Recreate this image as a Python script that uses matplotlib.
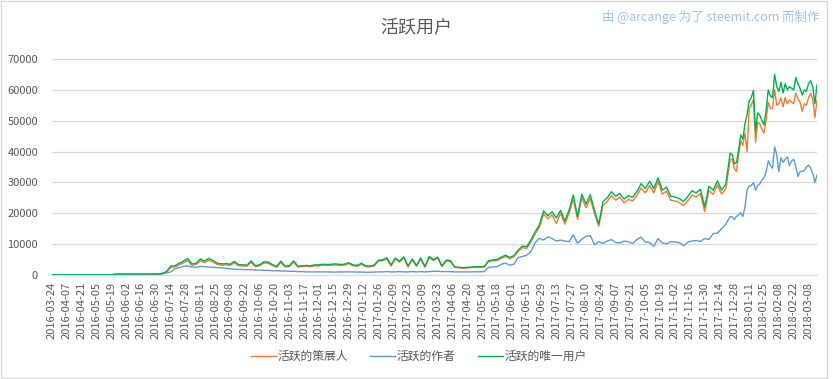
import numpy as np
import pandas as pd
import matplotlib
matplotlib.use("Agg")
import matplotlib.pyplot as plt
import matplotlib.dates as mdates
from matplotlib.patches import Rectangle

plt.rcParams['font.family'] = ['Noto Sans CJK SC', 'DejaVu Sans']

# fechas: cada 4 dias hasta 2017-12-24, luego cada 2 dias
fechas = pd.date_range("2016-03-24", periods=161, freq="4D").append(
    pd.date_range("2017-12-26", periods=41, freq="2D"))

# 活跃的唯一用户 (verde)
unicos = ([80] * 15 + [300] * 10 + [
    350, 500, 1100, 2900, 3000, 3800, 4400, 5400, 3600, 3800,
    5200, 4500, 5400, 4700, 3800, 3600, 3700, 3500, 4400, 3400,
    3300, 3200, 4600, 3000, 3300, 4300, 4200, 3400, 2800, 4500,
    2900, 3000, 4600, 2900, 3000, 3100, 3000, 3300, 3300, 3500,
    3400, 3500, 3600, 3400, 3500, 4000, 3300, 3100, 3800, 3000,
    2900, 3200, 4800, 4900, 5600, 3200, 5500, 4500, 5900, 2900,
    5200, 3100, 5500, 2800, 6000, 5000, 5800, 3000, 4800, 4700,
    2700, 2500, 2400, 2500, 2600, 2700, 2700, 2800, 4600, 4900,
    5000, 5800, 6400, 5700, 6300, 8100, 9400, 9200, 11300, 14000,
    16200, 20800, 19200, 20500, 18500, 21000, 17500, 21000, 25900, 19000,
    26200, 23000, 26000, 21000, 16500, 23800, 25000, 27000, 25500, 26400,
    24600, 25700, 25200, 27000, 29600, 28000, 30400, 28000, 31500, 27500,
    28500, 25500, 25300, 24800, 23800, 25400, 27300, 26600, 27800, 22000,
    28800, 27500, 30500, 27500, 29500, 39500,
    39000, 36000, 36500, 40500, 45400, 44000, 49000, 52000, 56500, 57500,
    59800, 46500, 52500, 51800, 50000, 48600, 53500, 60000, 58000, 57500,
    65000, 61000, 59500, 62500, 59000, 62000, 60000, 61000, 60500, 60000,
    64000, 62000, 60500, 58300, 60000, 59500, 62000, 63000, 61000, 55500,
    61600])

# 活跃的策展人 (naranja)
curadores = ([60] * 15 + [250] * 10 + [
    300, 450, 900, 2400, 2600, 3300, 3900, 4700, 3200, 3400,
    4600, 4000, 4800, 4200, 3400, 3200, 3300, 3100, 3900, 3000,
    2900, 2900, 4100, 2700, 3000, 3900, 3800, 3100, 2500, 4100,
    2600, 2700, 4200, 2600, 2700, 2800, 2700, 3000, 3000, 3200,
    3100, 3200, 3300, 3100, 3200, 3700, 3000, 2800, 3500, 2700,
    2600, 2900, 4500, 4600, 5300, 2900, 5200, 4200, 5600, 2600,
    4900, 2800, 5200, 2500, 5700, 4700, 5500, 2700, 4500, 4400,
    2500, 2300, 2200, 2300, 2400, 2500, 2500, 2600, 4300, 4600,
    4700, 5400, 6000, 5300, 5900, 7600, 8900, 8600, 10700, 13300,
    15500, 19800, 18200, 19500, 16700, 20000, 16500, 20000, 24600, 18000,
    25000, 21800, 24800, 20000, 15800, 22500, 23800, 25700, 24300, 25200,
    23400, 24500, 24000, 25700, 28200, 26600, 29000, 26600, 30300, 26200,
    27200, 24200, 24000, 23500, 22500, 24000, 25900, 25300, 26400, 20500,
    27400, 26100, 29200, 26200, 28000, 37500,
    37500, 34500, 33500, 39000, 43500, 42000, 46000, 40000, 54000, 55000,
    57000, 43000, 49500, 49000, 47000, 46000, 50200, 56000, 54000, 54000,
    60000, 55000, 55500, 57500, 54500, 57500, 55500, 56700, 56000, 55500,
    58900, 57000, 56000, 53000, 55500, 55000, 57500, 58900, 57000, 51000,
    56700])

# 活跃的作者 (azul)
autores = ([40] * 15 + [200] * 10 + [
    250, 350, 700, 1000, 2000, 2400, 2800, 3000, 2600, 2500,
    2800, 2700, 2600, 2500, 2400, 2300, 2200, 2000, 1900, 1800,
    1800, 1700, 1700, 1600, 1600, 1500, 1500, 1400, 1400, 1300,
    1300, 1200, 1200, 1100, 1100,
    1000, 1000, 1000, 1000, 1000, 1000, 950, 950, 1000, 1000, 1000, 1000,
    950, 950, 900, 900, 950, 1000, 1000, 1100, 1000, 1000,
    1100, 1000, 1000, 1100, 1000, 1100, 1000, 1100, 1200, 1200,
    1100, 1100, 1100, 1000, 1000, 1000, 1000, 1000, 1050, 1050, 1100,
    2500, 2600, 2700, 3500, 3800, 3200, 3500, 5700, 6000, 6400,
    7600, 10500, 11900, 11300, 12400, 11800, 11000, 11300, 11000, 10800,
    13000, 10300, 11600, 12500, 12800, 9800, 10800, 10200, 11000, 11500,
    10500, 10400, 11000, 10800, 10200, 11500, 12300, 10700, 10500, 9300,
    11800, 10400, 10100, 10800, 10700, 10500, 9500, 10600, 11000, 11200,
    10900, 11800, 11500, 13400, 13600, 15000, 16500, 19000,
    18800, 18000, 19000, 19600, 20200, 19000, 22000, 27500, 28800, 29000,
    29900, 27500, 29000, 29500, 30800, 31500, 33500, 37000, 35500, 34600,
    41500, 39000, 33500, 38000, 36500, 37500, 38300, 35500, 37000, 37500,
    35000, 31900, 33500, 33600, 33800, 35000, 35600, 34600, 33000, 30000,
    32400])

etiquetas = ["活跃的策展人", "活跃的作者", "活跃的唯一用户"]
ticks = pd.date_range("2016-03-24", "2018-03-08", freq="14D")

fig = plt.figure(figsize=(8.33, 3.79), dpi=100)
ax = fig.add_axes([0.0624, 0.2744, 0.9184, 0.5699])

ax.plot(fechas, curadores, color="#ED7D31", lw=1.0, label=etiquetas[0])
ax.plot(fechas, autores, color="#5B9BD5", lw=1.0, label=etiquetas[1])
ax.plot(fechas, unicos, color="#00B050", lw=1.0, label=etiquetas[2])

ax.set_xlim(pd.Timestamp("2016-03-24"), pd.Timestamp("2018-03-16"))
ax.set_ylim(0, 70000)
ax.set_yticks(np.arange(0, 70001, 10000))
ax.set_xticks(ticks)
ax.xaxis.set_major_formatter(mdates.DateFormatter("%Y-%m-%d"))
ax.tick_params(axis="x", rotation=90, labelsize=8, length=0, colors="#595959", pad=5)
ax.tick_params(axis="y", labelsize=8, length=0, colors="#595959", pad=10)
ax.grid(axis="y", color="#D9D9D9", lw=0.9)
ax.set_axisbelow(True)
for s in ["top", "right", "left"]:
    ax.spines[s].set_visible(False)
ax.spines["bottom"].set_color("#D9D9D9")

fig.text(0.5, 0.928, "活跃用户", ha="center", va="center", fontsize=13, color="#595959")
fig.text(0.984, 0.955, "由 @arcange 为了 steemit.com 而制作", ha="right", va="center",
         fontsize=9, color="#9DC3E6")

fig.legend(loc="center", bbox_to_anchor=(0.503, 0.06), ncol=3, frameon=False,
           fontsize=8.5, handlelength=2.1, columnspacing=1.9, handletextpad=0.15,
           labelcolor="#595959")

fig.patches.append(Rectangle((0.001, 0.003), 0.992, 0.995, transform=fig.transFigure,
                             fill=False, edgecolor="#D9D9D9", lw=1))

plt.savefig("out.png", dpi=100)
